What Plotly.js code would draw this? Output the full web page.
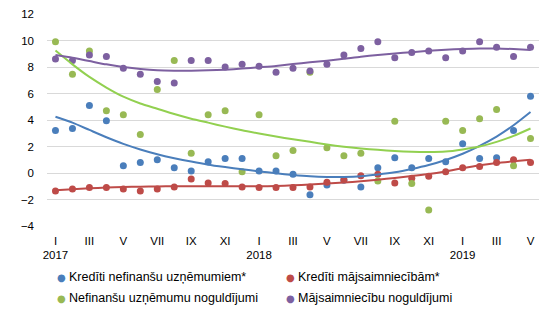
<!DOCTYPE html>
<html>
<head>
<meta charset="utf-8">
<script src="https://cdn.plot.ly/plotly-3.0.1.min.js"></script>
<style>html,body{margin:0;padding:0;background:#fff}#chart{width:554px;height:323px}</style>
</head>
<body>
<div id="chart"></div>
<script>
// Months Jan 2017 .. May 2019
const categories = [
  "2017-01","2017-02","2017-03","2017-04","2017-05","2017-06","2017-07","2017-08","2017-09","2017-10","2017-11","2017-12",
  "2018-01","2018-02","2018-03","2018-04","2018-05","2018-06","2018-07","2018-08","2018-09","2018-10","2018-11","2018-12",
  "2019-01","2019-02","2019-03","2019-04","2019-05"
];
const tickCategories = ["2017-01","2017-03","2017-05","2017-07","2017-09","2017-11","2018-01","2018-03","2018-05","2018-07","2018-09","2018-11","2019-01","2019-03","2019-05"];
const tickLabels = ["I<br>2017","III","V","VII","IX","XI","I<br>2018","III","V","VII","IX","XI","I<br>2019","III","V"];

const seriesNames = ["Kredīti nefinanšu uzņēmumiem*","Kredīti mājsaimniecībām*","Nefinanšu uzņēmumu noguldījumi","Mājsaimniecību noguldījumi"];

const loansCorp = [3.2,3.35,5.1,3.95,0.55,0.8,1.0,0.4,0.15,0.85,1.1,1.1,0.15,0.15,-0.1,-1.65,-0.9,-0.55,-1.05,0.4,1.15,0.4,1.1,0.85,2.2,1.1,1.15,3.2,5.8];
const loansHouse = [-1.35,-1.2,-1.1,-1.1,-1.2,-1.35,-1.2,-1.05,-0.45,-0.75,-0.8,-1.05,-1.1,-1.1,-1.1,-1.05,-0.7,-0.5,-0.2,-0.1,-0.75,-0.4,-0.25,0.1,0.4,0.5,0.8,1.0,0.8];
const depCorp = [9.9,7.45,9.2,4.7,4.4,2.9,6.3,8.5,1.5,4.4,4.7,0.1,4.4,1.3,1.7,7.6,1.9,1.3,1.5,-0.6,3.9,-0.8,-2.8,3.9,3.2,4.1,4.8,0.55,2.6];
const depHouse = [8.6,8.5,8.9,8.8,7.9,7.45,6.9,6.8,8.5,8.5,8.0,8.2,8.05,7.6,7.9,7.7,8.2,8.9,9.4,9.9,8.7,9.1,9.2,8.7,9.2,9.9,9.5,8.8,9.5];

// Trend lines
const trendLoansCorp = [4.24,3.8,3.25,2.7,2.2,1.78,1.42,1.12,0.86,0.63,0.45,0.28,0.12,-0.02,-0.15,-0.25,-0.3,-0.3,-0.25,-0.12,0.05,0.3,0.6,0.98,1.45,2.05,2.75,3.6,4.6];
const trendLoansHouse = [-1.31,-1.22,-1.15,-1.1,-1.06,-1.03,-1.01,-1.0,-1.0,-1.0,-1.0,-1.0,-1.0,-0.98,-0.93,-0.87,-0.8,-0.72,-0.62,-0.5,-0.38,-0.23,-0.08,0.12,0.36,0.58,0.75,0.88,1.0];
const trendDepCorp = [9.24,8.2,7.25,6.45,5.76,5.25,4.85,4.45,4.1,3.8,3.5,3.22,2.98,2.75,2.55,2.35,2.15,1.98,1.85,1.75,1.66,1.6,1.58,1.62,1.78,2.0,2.35,2.8,3.36];
const trendDepHouse = [8.9,8.7,8.45,8.2,8.0,7.85,7.75,7.72,7.72,7.75,7.8,7.88,7.98,8.08,8.22,8.35,8.48,8.62,8.78,8.9,9.02,9.12,9.22,9.3,9.36,9.4,9.4,9.35,9.28];

const markerColors = ["#4a7ebb","#be4b48","#98b954","#7d60a0"];
const lineColors = ["#4a7ebb","#be4b48","#92d050","#7d60a0"];
const values = [loansCorp, loansHouse, depCorp, depHouse];
const trends = [trendLoansCorp, trendLoansHouse, trendDepCorp, trendDepHouse];

const traces = [];
values.forEach((v,i)=>{
  traces.push({type:"scatter",mode:"markers",x:categories,y:v,name:seriesNames[i],showlegend:false,
    marker:{color:markerColors[i],size:7},cliponaxis:false});
});
trends.forEach((v,i)=>{
  traces.push({type:"scatter",mode:"lines",x:categories,y:v,showlegend:false,hoverinfo:"skip",
    line:{color:lineColors[i],width:2,shape:"spline",smoothing:0.6}});
});

const tickFont = {family:"Liberation Sans, Arial, sans-serif",size:11.5,color:"#000"};
const legFont = {family:"Liberation Sans, Arial, sans-serif",size:12.5,color:"#000"};

// Custom legend: 2 columns x 2 rows (positions in paper fractions of the plot area)
const plotL = 47, plotW = 492, plotB = 226, plotH = 212;
const legCols = [61, 290], legRows = [277, 298];
const annotations = [];
seriesNames.forEach((n,i)=>{
  const px = legCols[i%2], py = legRows[Math.floor(i/2)];
  const yy = (plotB - py)/plotH;
  annotations.push({xref:"paper",yref:"paper",x:(px-plotL)/plotW,y:yy,xanchor:"center",yanchor:"middle",
    text:"●",showarrow:false,font:{family:"DejaVu Sans",size:10,color:markerColors[i]}});
  annotations.push({xref:"paper",yref:"paper",x:(px+6-plotL)/plotW,y:yy,xanchor:"left",yanchor:"middle",
    text:n,showarrow:false,font:legFont});
});

const layout = {
  width:554,height:323,
  margin:{l:47,r:15,t:14,b:97},
  paper_bgcolor:"#fff",plot_bgcolor:"#fff",
  font:tickFont,
  showlegend:false,
  annotations:annotations,
  xaxis:{type:"category",categoryorder:"array",categoryarray:categories,range:[-0.5,28.5],
    tickvals:tickCategories,ticktext:tickLabels,showgrid:false,zeroline:false,showline:false,
    ticks:"",tickfont:tickFont,tickangle:0,ticklabelstandoff:6,fixedrange:true},
  yaxis:{range:[-4,12],tickvals:[-4,-2,0,2,4,6,8,10,12],showgrid:true,gridcolor:"#d9d9d9",gridwidth:1,
    zeroline:true,zerolinecolor:"#d9d9d9",zerolinewidth:1,showline:false,ticks:"",
    ticklabelstandoff:12,tickfont:tickFont,fixedrange:true}
};
Plotly.newPlot("chart",traces,layout,{displayModeBar:false,staticPlot:true});
</script>
</body>
</html>
